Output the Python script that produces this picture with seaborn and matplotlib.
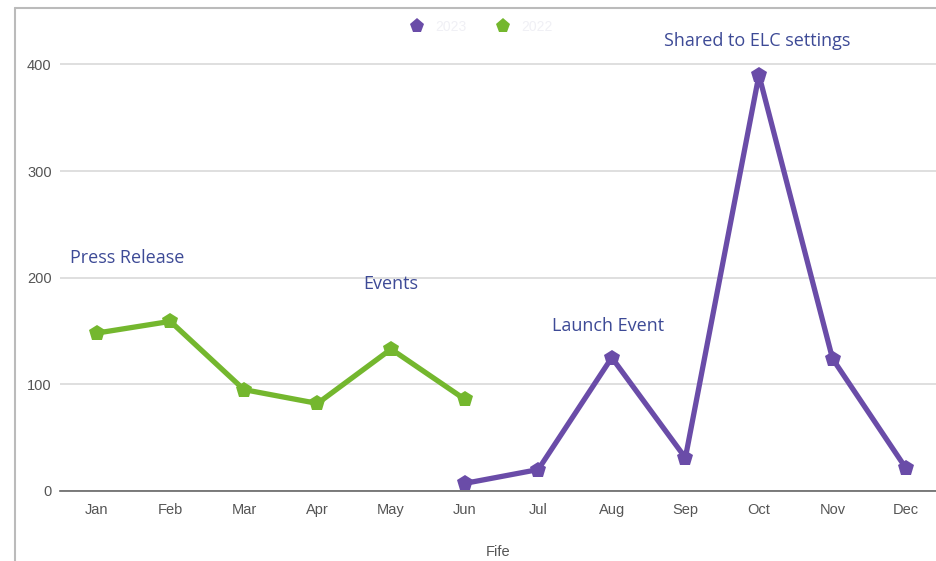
"""
月度折线图：两条系列 + 事件标注
"""
import pandas as pd
import numpy as np
import matplotlib
matplotlib.use('Agg')
import matplotlib.pyplot as plt
import seaborn as sns
from matplotlib.lines import Line2D

# 数据
months = ['Jan', 'Feb', 'Mar', 'Apr', 'May', 'Jun',
          'Jul', 'Aug', 'Sep', 'Oct', 'Nov', 'Dec']
green_months = ['Jan', 'Feb', 'Mar', 'Apr', 'May', 'Jun']
green_values = [148, 159, 95, 82, 133, 86]
purple_months = ['Jun', 'Jul', 'Aug', 'Sep', 'Oct', 'Nov', 'Dec']
purple_values = [7, 20, 125, 31, 390, 124, 21]
series_names = ['2023', '2022']
annotations = ['Press Release', 'Events', 'Launch Event', 'Shared to ELC settings']
annot_x = [0.41, 4.0, 6.95, 8.98]
annot_values = [218, 194, 155, 422]
y_ticks = [0, 100, 200, 300, 400]

PURPLE = '#6a4ca8'
GREEN = '#74b72e'
NAVY = '#3d4a96'

df = pd.concat([
    pd.DataFrame({'month': purple_months, 'value': purple_values, 'series': series_names[0]}),
    pd.DataFrame({'month': green_months, 'value': green_values, 'series': series_names[1]}),
])
df['x'] = df['month'].map({m: i for i, m in enumerate(months)})

sns.set_theme(style='white')
plt.rcParams['font.family'] = ['Liberation Sans', 'DejaVu Sans']

fig = plt.figure(figsize=(9.37, 5.61), dpi=100)
ax = fig.add_axes([0.064, 0.125, 0.936, 0.84])

sns.lineplot(data=df, x='x', y='value', hue='series',
             palette={series_names[0]: PURPLE, series_names[1]: GREEN},
             marker='p', markersize=12, markeredgewidth=0,
             linewidth=3.8, legend=False, ax=ax, clip_on=False)

ax.set_xlim(-0.5, 11.42)
ax.set_ylim(0, 442)
ax.set_xticks(range(len(months)))
ax.set_xticklabels(months)
ax.set_yticks(y_ticks)
ax.tick_params(axis='both', length=0, labelsize=10.5, labelcolor='#555555')
ax.tick_params(axis='x', pad=9)
ax.tick_params(axis='y', pad=6)
ax.grid(axis='y', color='#d9d9d9', linewidth=1.2)
ax.set_axisbelow(True)
for side in ['top', 'right', 'left']:
    ax.spines[side].set_visible(False)
ax.spines['bottom'].set_color('#666666')
ax.spines['bottom'].set_linewidth(1.2)
ax.set_xlabel('Fife', fontsize=10.5, color='#555555', labelpad=20)
ax.set_ylabel('')

# 事件标注
for txt, x, v in zip(annotations, annot_x, annot_values):
    ax.text(x, v, txt, ha='center', va='center',
            fontsize=13, color=NAVY, family=['Open Sans', 'DejaVu Sans'])

# 图例（文字几乎不可见）
handles = [Line2D([], [], linestyle='none', marker='p', markersize=11,
                  markeredgewidth=0, color=c) for c in (PURPLE, GREEN)]
leg = fig.legend(handles, series_names, loc='center', ncol=2,
                 bbox_to_anchor=(0.51, 0.952), frameon=False,
                 fontsize=10, columnspacing=1.6, handletextpad=0.3)
for t in leg.get_texts():
    t.set_color('#f0f0f5')

# 外框
fig.add_artist(Line2D([0.016, 0.016], [0, 0.986], color='#bbbbbb', linewidth=1.5,
                      transform=fig.transFigure))
fig.add_artist(Line2D([0.016, 1.0], [0.986, 0.986], color='#bbbbbb', linewidth=1.5,
                      transform=fig.transFigure))

fig.savefig('out.png', dpi=100)
plt.close(fig)
